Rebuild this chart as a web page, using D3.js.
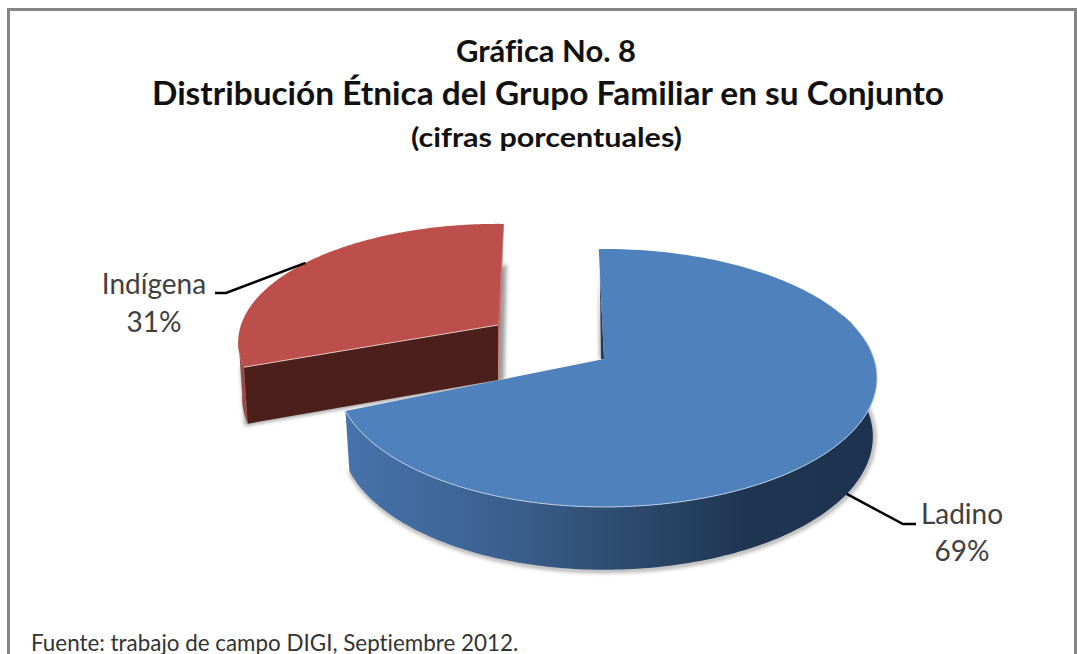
<!DOCTYPE html>
<html><head><meta charset="utf-8">
<script src="https://cdn.jsdelivr.net/npm/d3@7"></script>
<style>html,body{margin:0;padding:0;background:#fff;overflow:hidden}svg{display:block}text{font-family:Lato,"Open Sans",sans-serif;font-variant-ligatures:none}</style>
</head><body><svg id="c" width="1077" height="654"></svg>
<script>
const categories = ["Ladino", "Indígena"];
const values = [69, 31];
const valueLabels = ["69%", "31%"];
const titleLines = ["Gráfica No. 8", "Distribución Étnica del Grupo Familiar en su Conjunto", "(cifras porcentuales)"];
const sourceNote = "Fuente: trabajo de campo DIGI, Septiembre 2012.";

const PERSP = 0.147, DEG = Math.PI / 180;
const svg = d3.select("#c");
const defs = svg.append("defs");
defs.append("filter").attr("id", "blur").attr("x", "-10%").attr("y", "-10%").attr("width", "120%").attr("height", "120%")
  .append("feGaussianBlur").attr("stdDeviation", 2);
const grad = defs.append("linearGradient").attr("id", "wall").attr("gradientUnits", "userSpaceOnUse")
  .attr("x1", 347).attr("x2", 876).attr("y1", 0).attr("y2", 0);
[[0, "#4673aa"], [0.28, "#3c6191"], [0.5, "#2f4d72"], [0.75, "#1f3652"], [1, "#1d324e"]]
  .forEach(([o, c]) => grad.append("stop").attr("offset", o).attr("stop-color", c));

svg.append("rect").attr("x", 8.5).attr("y", 9.5).attr("width", 1067).attr("height", 700)
  .attr("fill", "#fff").attr("stroke", "#858585").attr("stroke-width", 3);

const pie = d3.pie().sort(null).startAngle(0).endAngle(2 * Math.PI);
const slices = pie(values);

// slice frames: perspective disc placed on the page
const frames = [
  { cx: 604, cy: 359, R: 270, k: 126.2, depth: 58, rot: -1.3 * DEG, leftX: 0.98 },
  { cx: 498, cy: 325, R: 257, k: 116, depth: 55, rot: 1.4 * DEG, leftX: 1 }
];
function project(f, a, r) {
  const t = a + f.rot, u = r * Math.sin(t), v = -r * Math.cos(t), s = 1 / (1 - PERSP * v);
  return { x: f.cx + f.R * u * s * (u < 0 ? f.leftX : 1), y: f.cy + f.k * v * s, s };
}
function lower(f, p) {
  return { x: f.cx + (p.x - f.cx) * 0.985, y: p.y + f.depth * Math.sqrt(p.s) };
}
const line = d3.line().x(d => d.x).y(d => d.y);
const arcPts = (f, a0, a1) => d3.range(0, 181).map(i => project(f, a0 + (a1 - a0) * i / 180, 1));

const topFace = (f, d) => line([project(f, 0, 0), ...arcPts(f, d.startAngle, d.endAngle)]) + "Z";

// ---- Indígena (exploded slice)
(function () {
  const d = slices[1], f = frames[1], g = svg.append("g");
  const apex = project(f, 0, 0), a = project(f, d.startAngle, 1), b = project(f, d.endAngle, 1);
  const la = lower(f, a), lapex = lower(f, apex);
  // soft shadow
  const sh = [{x: a.x - 3, y: a.y}, {x: la.x - 3, y: la.y + 2}, {x: lapex.x, y: lapex.y + 2}, {x: lapex.x + 6, y: lapex.y}, {x: b.x + 3, y: b.y + 40}];
  g.append("path").attr("d", line(sh) + "Z").attr("fill", "#999").attr("filter", "url(#blur)");
  // outer wall
  const wallTop = arcPts(f, 262 * DEG, d.startAngle);
  g.append("path").attr("d", line([...wallTop, ...wallTop.map(p => lower(f, p)).reverse()]) + "Z").attr("fill", "#9c4a47");
  // right wall
  g.append("path").attr("d", line([b, apex, lapex]) + "Z").attr("fill", "#b5524e").attr("stroke", "#c98a88").attr("stroke-width", 0.8);
  // front wall
  g.append("path").attr("d", line([a, apex, lapex, la]) + "Z").attr("fill", "#4d1f1b");
  g.append("path").attr("d", topFace(f, d)).attr("fill", "#bc4f4c");
  g.append("path").attr("d", line([a, apex])).attr("fill", "none").attr("stroke", "#e3c4c2").attr("stroke-width", 1);
})();

// ---- Ladino
(function () {
  const d = slices[0], f = frames[0], g = svg.append("g");
  const wallTop = arcPts(f, 70 * DEG, d.endAngle);
  const wallBot = wallTop.map(p => lower(f, p));
  const wall = line([...wallTop, ...wallBot.slice().reverse()]) + "Z";
  g.append("path").attr("d", line(wallBot.map(p => ({ x: p.x + 1, y: p.y + 1 })))).attr("fill", "none")
    .attr("stroke", "#888").attr("stroke-width", 3).attr("filter", "url(#blur)");
  g.append("path").attr("d", wall).attr("fill", "url(#wall)");
  // thin inner wall visible along the start edge
  const apex = project(f, 0, 0), inner = project(f, d.startAngle, 0.78);
  g.append("path").attr("d", line([{ x: inner.x - 2, y: inner.y }, apex, { x: apex.x - 4, y: apex.y }]) + "Z")
    .attr("fill", "#999").attr("filter", "url(#blur)");
  g.append("path").attr("d", line([inner, apex, { x: apex.x - 3, y: apex.y }]) + "Z").attr("fill", "#1f3a5c");
  g.append("path").attr("d", topFace(f, d)).attr("fill", "#4f81bd");
  g.append("path").attr("d", line(arcPts(f, 75 * DEG, d.endAngle))).attr("fill", "none")
    .attr("stroke", "#b8cce4").attr("stroke-width", 1);
})();

// ---- leaders and labels
const labelLayout = [
  { elbow: [903, 524], end: [916, 524], x: 962, y1: 524, y2: 561, useWall: true },
  { elbow: [226, 293], end: [215, 293], x: 154, y1: 294, y2: 332, useWall: false }
];
slices.forEach((d, i) => {
  const f = frames[i], l = labelLayout[i], mid = (d.startAngle + d.endAngle) / 2;
  let p = project(f, mid, 1);
  if (l.useWall) p = lower(f, p);
  svg.append("path").attr("d", d3.line()([[p.x, p.y], l.elbow, l.end])).attr("fill", "none")
    .attr("stroke", "#000").attr("stroke-width", 2.5);
  [[categories[i], l.y1], [valueLabels[i], l.y2]].forEach(([t, y]) =>
    svg.append("text").attr("x", l.x).attr("y", y).attr("text-anchor", "middle")
      .attr("font-size", 28).attr("fill", "#404040").text(t));
});

// ---- titles
[[62, 31, 180, 546], [105, 32, 792, 548], [147, 27, 271, 546.5]].forEach(([y, s, len, x], i) =>
  svg.append("text").attr("x", x).attr("y", y).attr("text-anchor", "middle")
    .attr("font-size", s).attr("font-weight", 700).attr("fill", "#111")
    .attr("textLength", len).attr("lengthAdjust", "spacingAndGlyphs").text(titleLines[i]));
svg.append("text").attr("x", 31).attr("y", 651).attr("font-size", 22.4).attr("fill", "#333").text(sourceNote);
</script></body></html>
